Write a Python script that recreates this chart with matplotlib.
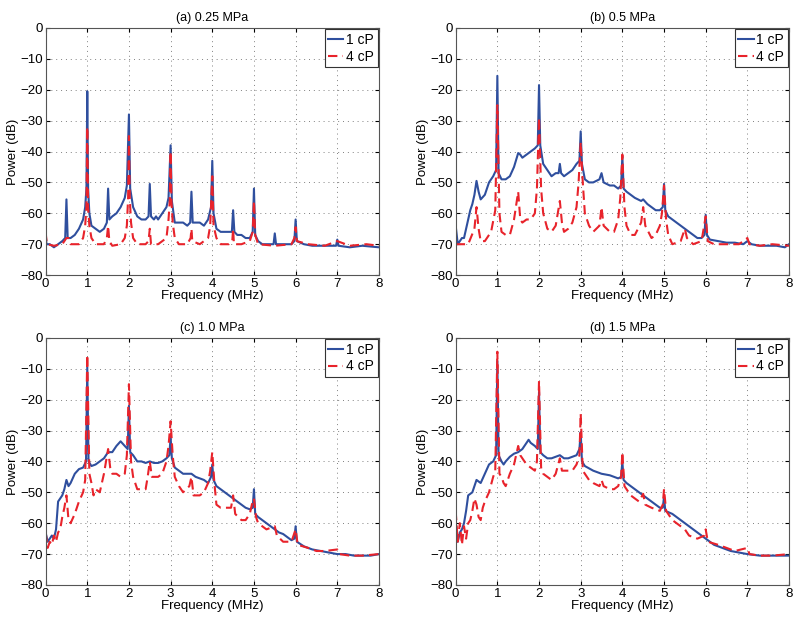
import matplotlib
matplotlib.use("Agg")
import matplotlib.pyplot as plt

plt.rcParams['font.family'] = ['Liberation Sans', 'DejaVu Sans']

titles = ["(a) 0.25 MPa", "(b) 0.5 MPa", "(c) 1.0 MPa", "(d) 1.5 MPa"]
series_names = ["1 cP", "4 cP"]
x_ticks = [0, 1, 2, 3, 4, 5, 6, 7, 8]
y_ticks = [-80, -70, -60, -50, -40, -30, -20, -10, 0]

# ---- (a) 0.25 MPa ----
a_f1 = [0, 0.02, 0.1, 0.2, 0.3, 0.4, 0.47, 0.5, 0.53, 0.6, 0.7, 0.8, 0.9, 0.95, 0.98, 1.0, 1.02, 1.05, 1.1, 1.2,
        1.3, 1.4, 1.47, 1.5, 1.53, 1.6, 1.7, 1.8, 1.9, 1.95, 2.0, 2.03, 2.1, 2.2, 2.3, 2.4, 2.47, 2.5, 2.53, 2.6,
        2.65, 2.7, 2.8, 2.9, 2.95, 3.0, 3.03, 3.1, 3.2, 3.3, 3.4, 3.47, 3.5, 3.53, 3.6, 3.7, 3.8, 3.9, 3.97, 4.0,
        4.03, 4.1, 4.2, 4.3, 4.4, 4.47, 4.5, 4.53, 4.6, 4.7, 4.8, 4.9, 4.97, 5.0, 5.03, 5.1, 5.2, 5.3, 5.47, 5.5,
        5.53, 5.7, 5.9, 5.97, 6.0, 6.03, 6.2, 6.4, 6.6, 6.8, 6.97, 7.0, 7.03, 7.3, 7.6, 8.0]
a_p1 = [-66, -70, -70, -71, -70, -69, -68, -55.5, -68, -68, -67, -65, -62, -58, -52, -20.5, -52, -60, -64, -65,
        -66, -65, -63, -52, -62, -61, -60, -58, -55, -51, -28, -52, -58, -61, -62, -62, -61, -50.5, -61, -62,
        -61, -62, -60, -58, -55, -38, -56, -63, -63, -63, -64, -63, -53, -63, -63, -63, -64, -62, -58, -43,
        -60, -65, -66, -66, -66, -66, -59, -66, -67, -67, -68, -68, -66, -52, -67, -69, -70, -70, -70, -66.5,
        -70, -70, -70, -69, -62, -69, -70, -70.5, -70.5, -70.5, -70.5, -68.5, -70.5, -71, -70.5, -71]
a_f4 = [0, 0.03, 0.2, 0.4, 0.5, 0.55, 0.6, 0.8, 0.9, 0.95, 0.98, 1.0, 1.02, 1.05, 1.1, 1.2, 1.4, 1.47, 1.5, 1.53,
        1.6, 1.8, 1.9, 1.95, 1.98, 2.0, 2.02, 2.05, 2.1, 2.2, 2.4, 2.47, 2.5, 2.53, 2.7, 2.9, 2.95, 2.98, 3.0, 3.02,
        3.05, 3.1, 3.2, 3.4, 3.48, 3.5, 3.52, 3.7, 3.9, 3.95, 4.0, 4.03, 4.1, 4.2, 4.4, 4.48, 4.5, 4.52, 4.7, 4.9,
        4.97, 5.0, 5.03, 5.1, 5.5, 5.9, 5.97, 6.0, 6.03, 6.3, 6.7, 7.0, 7.3, 7.7, 8.0]
a_p4 = [-66, -70, -70.5, -70, -68, -68, -70, -70, -68, -64, -58, -32, -58, -64, -68, -70, -70, -68, -64, -69,
        -70.5, -70, -68, -64, -55, -35, -55, -63, -68, -70, -70, -69, -65, -70, -70, -68, -62, -56, -40, -56,
        -63, -68, -70, -70, -68, -65, -69, -70, -68, -64, -48, -64, -68, -70, -70, -69, -65, -70, -70, -69,
        -66, -56, -67, -70, -70.5, -70, -68, -64.5, -69, -70, -70.5, -69, -70.5, -70, -70.5]

# ---- (b) 0.5 MPa ----
b_f1 = [0, 0.05, 0.1, 0.15, 0.2, 0.3, 0.35, 0.4, 0.45, 0.5, 0.55, 0.6, 0.7, 0.8, 0.9, 0.97, 1.0, 1.03, 1.1, 1.2,
        1.3, 1.4, 1.5, 1.55, 1.6, 1.7, 1.8, 1.9, 1.97, 2.0, 2.03, 2.1, 2.2, 2.3, 2.4, 2.47, 2.5, 2.53, 2.6, 2.7,
        2.8, 2.9, 2.97, 3.0, 3.03, 3.1, 3.2, 3.3, 3.45, 3.5, 3.55, 3.7, 3.8, 3.9, 3.97, 4.0, 4.03, 4.1, 4.2, 4.3,
        4.45, 4.5, 4.6, 4.7, 4.8, 4.9, 4.97, 5.0, 5.03, 5.1, 5.2, 5.3, 5.4, 5.5, 5.6, 5.7, 5.8, 5.9, 5.97, 6.0,
        6.03, 6.1, 6.3, 6.5, 6.7, 6.9, 7.0, 7.1, 7.3, 7.5, 7.7, 7.9, 8.0]
b_p1 = [-64, -70, -69, -68, -68, -62, -59, -57, -54, -49.5, -53, -55.5, -54, -50, -48, -46, -15.5, -47, -49, -49,
        -48, -45, -40.5, -41, -42, -41, -40, -39, -38, -18.5, -38, -44, -46, -48, -47, -47, -44, -47, -48, -47,
        -46, -44, -43, -33.5, -44, -49, -50, -50, -49, -47, -50, -51, -51, -52, -51, -41.5, -52, -53, -54, -55,
        -56, -55.5, -57, -58, -59, -59, -58, -50.5, -59, -61, -62, -63, -64, -65, -66, -67, -68, -68, -67, -60.5,
        -67, -68.5, -69, -69.5, -69.5, -70, -69, -70, -70.5, -70.5, -70.5, -71, -70]
b_f4 = [0, 0.3, 0.45, 0.5, 0.55, 0.6, 0.7, 0.85, 0.95, 1.0, 1.05, 1.1, 1.2, 1.3, 1.4, 1.5, 1.55, 1.6, 1.7, 1.8,
        1.9, 1.95, 2.0, 2.05, 2.1, 2.2, 2.3, 2.4, 2.5, 2.55, 2.6, 2.7, 2.8, 2.9, 2.95, 3.0, 3.05, 3.1, 3.2, 3.3,
        3.45, 3.5, 3.55, 3.7, 3.8, 3.9, 3.95, 4.0, 4.05, 4.1, 4.2, 4.3, 4.45, 4.5, 4.55, 4.7, 4.8, 4.9, 4.95, 5.0,
        5.05, 5.1, 5.2, 5.4, 5.5, 5.55, 5.7, 5.9, 6.0, 6.05, 6.2, 6.4, 6.6, 6.8, 7.0, 7.05, 7.3, 7.6, 8.0]
b_p4 = [-70, -70, -65, -58, -65, -69, -69, -66, -59, -25, -60, -66, -67, -67, -62, -53, -62, -63, -62, -62,
        -60, -52, -29, -52, -60, -65, -66, -64, -56, -63, -66, -65, -63, -58, -50, -37, -50, -60, -64, -66,
        -64, -58, -64, -66, -66, -62, -55, -41, -58, -64, -67, -67, -63, -58, -64, -68, -67, -64, -60, -51,
        -62, -67, -70, -69, -65, -68, -70, -69, -61, -69, -70, -70, -70, -70, -68, -70, -70.5, -70, -70.5]

# ---- (c) 1.0 MPa ----
c_f1 = [0, 0.05, 0.1, 0.15, 0.2, 0.25, 0.3, 0.35, 0.4, 0.45, 0.5, 0.55, 0.6, 0.7, 0.8, 0.9, 0.97, 1.0, 1.03, 1.1,
        1.2, 1.3, 1.4, 1.5, 1.6, 1.7, 1.8, 1.9, 1.97, 2.0, 2.03, 2.1, 2.2, 2.3, 2.4, 2.5, 2.6, 2.7, 2.8, 2.9,
        2.97, 3.0, 3.03, 3.1, 3.2, 3.3, 3.4, 3.5, 3.6, 3.7, 3.8, 3.9, 3.97, 4.0, 4.03, 4.1, 4.2, 4.3, 4.4, 4.5,
        4.6, 4.7, 4.8, 4.9, 4.97, 5.0, 5.03, 5.1, 5.2, 5.3, 5.4, 5.5, 5.6, 5.7, 5.8, 5.9, 5.97, 6.0, 6.03, 6.2,
        6.4, 6.6, 6.8, 7.0, 7.2, 7.4, 7.6, 7.8, 8.0]
c_p1 = [-63, -66, -65, -64, -65, -62, -53, -52, -51, -49, -46, -48, -47, -44, -42.5, -42, -40, -9.5, -40, -41.5,
        -41, -40, -39, -37, -37, -35, -33.5, -35, -36, -22, -37, -38, -40, -40, -40.5, -40, -40.5, -40.5, -40, -39,
        -38, -32, -39, -42, -43, -44, -44, -44, -45, -45.5, -46, -47, -45, -41, -46, -48, -49, -50, -51, -52,
        -53, -54, -55, -55.5, -55, -49, -57, -58, -59, -60, -61, -62, -63, -63.5, -64.5, -65.5, -65, -61, -66, -67.5,
        -68.5, -69, -69.5, -70, -70, -70.5, -70.5, -70.5, -70]
c_f4 = [0, 0.05, 0.1, 0.15, 0.2, 0.25, 0.3, 0.35, 0.4, 0.45, 0.5, 0.55, 0.6, 0.7, 0.8, 0.9, 0.95, 1.0, 1.05, 1.1,
        1.15, 1.2, 1.3, 1.4, 1.5, 1.55, 1.6, 1.7, 1.8, 1.9, 1.95, 2.0, 2.05, 2.1, 2.2, 2.3, 2.4, 2.45, 2.5, 2.55,
        2.7, 2.8, 2.9, 2.95, 3.0, 3.05, 3.1, 3.2, 3.3, 3.45, 3.5, 3.55, 3.7, 3.8, 3.9, 3.95, 4.0, 4.05, 4.1, 4.2,
        4.3, 4.45, 4.5, 4.55, 4.7, 4.8, 4.9, 4.95, 5.0, 5.05, 5.1, 5.2, 5.3, 5.5, 5.55, 5.7, 5.9, 6.0, 6.05, 6.3,
        6.5, 6.7, 7.0, 7.05, 7.3, 7.6, 8.0]
c_p4 = [-63, -68, -66, -67, -64, -66, -63, -62, -58, -55, -51, -59, -60, -57, -53, -50, -46, -5.5, -44, -47,
        -51, -49, -50, -44, -36, -42, -44, -44, -45, -44, -38, -15, -40, -45, -49, -49, -49, -45, -40, -45,
        -45, -44, -40, -35, -27, -38, -45, -48, -50, -48, -45, -51, -51, -50, -47, -43, -37, -47, -54, -55,
        -55, -55, -51, -57, -59, -59, -57, -54, -52, -58, -60, -61, -62, -61, -64, -66, -66, -62, -67, -68,
        -69, -69, -68.5, -70, -70.5, -70.5, -70]

# ---- (d) 1.5 MPa ----
d_f1 = [0, 0.05, 0.1, 0.15, 0.2, 0.25, 0.3, 0.4, 0.5, 0.6, 0.7, 0.8, 0.9, 0.97, 1.0, 1.03, 1.1, 1.15, 1.2, 1.3,
        1.4, 1.5, 1.6, 1.7, 1.75, 1.8, 1.9, 1.97, 2.0, 2.03, 2.1, 2.2, 2.3, 2.4, 2.5, 2.6, 2.7, 2.8, 2.9, 2.97,
        3.0, 3.03, 3.1, 3.3, 3.5, 3.7, 3.9, 3.97, 4.0, 4.03, 4.1, 4.3, 4.5, 4.7, 4.9, 4.97, 5.0, 5.03, 5.2, 5.4,
        5.6, 5.8, 6.0, 6.2, 6.4, 6.6, 6.8, 7.0, 7.3, 7.6, 8.0]
d_p1 = [-60, -66, -63, -62, -60, -56, -51, -50, -46, -47, -44, -41, -40, -38, -7.5, -38, -40, -41, -40, -38.5,
        -37.5, -37, -36, -34, -33, -34, -35, -36, -17.5, -37, -38, -39, -39, -38.5, -38, -39, -39, -38.5, -38, -36,
        -30.5, -40, -41.5, -43, -44, -44.5, -45.5, -45, -40, -46, -47, -49, -51, -53, -55, -55, -51.5, -56, -57, -59,
        -61, -63, -65, -67, -68, -69, -69.5, -70, -70.5, -70.5, -70.5]
d_f4 = [0, 0.05, 0.1, 0.15, 0.2, 0.25, 0.3, 0.35, 0.4, 0.45, 0.5, 0.55, 0.6, 0.65, 0.7, 0.8, 0.9, 0.95, 1.0, 1.05,
        1.1, 1.15, 1.2, 1.3, 1.4, 1.5, 1.55, 1.6, 1.7, 1.8, 1.9, 1.95, 2.0, 2.05, 2.1, 2.2, 2.3, 2.4, 2.5, 2.55,
        2.7, 2.8, 2.9, 2.97, 3.0, 3.05, 3.2, 3.3, 3.45, 3.5, 3.55, 3.7, 3.8, 3.9, 3.97, 4.0, 4.05, 4.2, 4.4, 4.5,
        4.55, 4.7, 4.9, 4.97, 5.0, 5.05, 5.2, 5.4, 5.5, 5.6, 5.8, 5.97, 6.0, 6.05, 6.3, 6.5, 6.7, 7.0, 7.05, 7.3,
        7.6, 8.0]
d_p4 = [-56, -66, -60, -67, -61, -65, -60, -59, -56, -52, -54, -58, -59, -55, -53, -50, -45, -43, -4.5, -44,
        -45, -47, -48, -44, -41, -35, -38, -39, -41, -42, -43, -40, -14, -42, -44, -45, -46, -44, -39, -43,
        -43, -43, -41, -38, -24.5, -43, -46, -47, -48, -46, -48, -49, -49, -48, -45, -37, -48, -51, -53, -50.5,
        -54, -55, -56, -54, -49, -56, -59, -61, -62, -64, -65, -64, -62, -66, -67, -68, -69, -68, -70, -70.5,
        -70.5, -70]

panels = [
    (a_f1, a_p1, a_f4, a_p4),
    (b_f1, b_p1, b_f4, b_p4),
    (c_f1, c_p1, c_f4, c_p4),
    (d_f1, d_p1, d_f4, d_p4),
]

blue = '#2f4f9e'
red = '#e8232b'

fig = plt.figure(figsize=(8.0, 6.21), dpi=100)
lefts = [0.057, 0.5696]
bottoms = [0.557, 0.058]
w, h = 0.4167, 0.398

for i, (f1, p1, f4, p4) in enumerate(panels):
    ax = fig.add_axes([lefts[i % 2], bottoms[i // 2], w, h])
    ax.plot(f1, p1, color=blue, lw=1.5, label=series_names[0])
    ax.plot(f4, p4, color=red, lw=1.5, ls=(0, (4.5, 2.5)), label=series_names[1])
    ax.set_xlim(0, 8)
    ax.set_ylim(-80, 0)
    ax.set_xticks(x_ticks)
    ax.set_yticks(y_ticks)
    ax.grid(True, color='#808080', ls=(0, (1, 4)), lw=0.7)
    ax.tick_params(direction='in', top=True, right=True, labelsize=9.5, length=3, pad=2)
    for s in ax.spines.values():
        s.set_color('#555555')
        s.set_linewidth(0.8)
    ax.set_xlabel('Frequency (MHz)', fontsize=9.5, labelpad=0)
    ax.set_ylabel('Power (dB)', fontsize=9.5, labelpad=1)
    ax.set_title(titles[i], fontsize=9, pad=5)
    leg = ax.legend(loc='upper right', fontsize=10, fancybox=False, framealpha=1,
                    edgecolor='#333333', borderaxespad=0.1, handlelength=1.1,
                    handletextpad=0.2, borderpad=0.25, labelspacing=0.2)
    leg.get_frame().set_linewidth(0.8)

fig.savefig('out.png', dpi=100)
